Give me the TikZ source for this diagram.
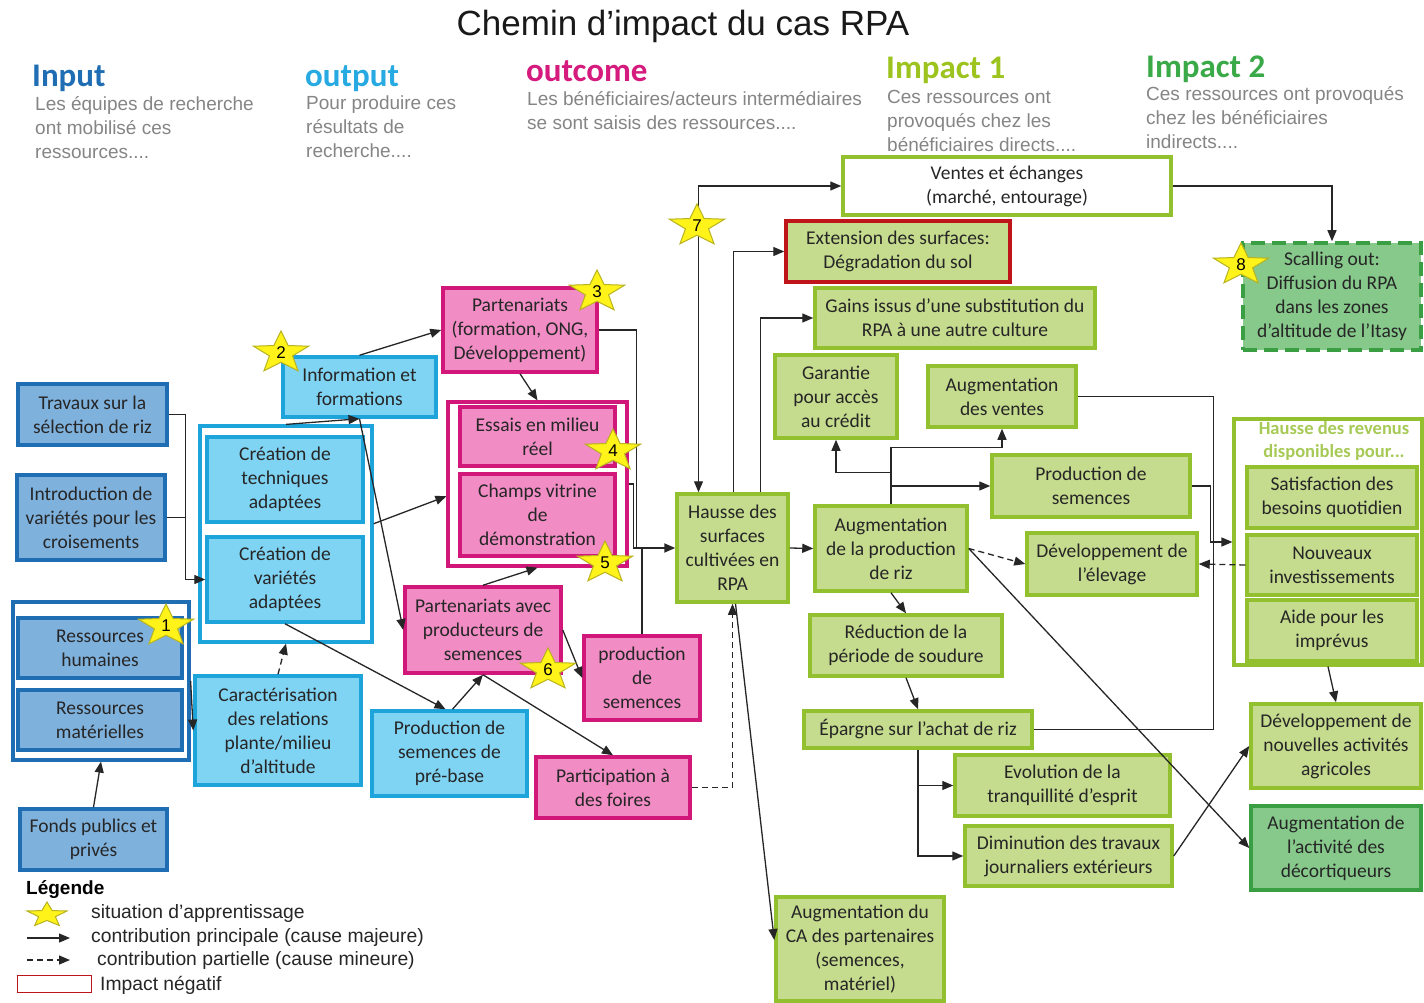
\documentclass[tikz,border=0pt]{standalone}
\usepackage{fontspec}
\setmainfont{Carlito}
\newfontfamily\arialf{Liberation Sans}
\usetikzlibrary{shapes.geometric,arrows.meta,calc}
\definecolor{inFill}{HTML}{7FB1DD}
\definecolor{inDraw}{HTML}{1F6DB3}
\definecolor{outFill}{HTML}{7FD3F3}
\definecolor{outDraw}{HTML}{1CA4DB}
\definecolor{ocFill}{HTML}{F18CC4}
\definecolor{ocDraw}{HTML}{D2177A}
\definecolor{imFill}{HTML}{C5DB8D}
\definecolor{imDraw}{HTML}{93C02E}
\definecolor{dkFill}{HTML}{86C98B}
\definecolor{dkDraw}{HTML}{3A9E42}
\definecolor{redDraw}{HTML}{C0141B}
\definecolor{starFill}{HTML}{FFF31A}
\definecolor{starDraw}{HTML}{B8B31E}
\definecolor{headGray}{HTML}{858585}
\definecolor{txt}{HTML}{262626}
\definecolor{inputC}{HTML}{1F6EB4}
\definecolor{outputC}{HTML}{27AAE1}
\definecolor{outcomeC}{HTML}{D51B7D}
\definecolor{impOneC}{HTML}{9DC41E}
\definecolor{impTwoC}{HTML}{3AA948}
\definecolor{revC}{HTML}{A6CA55}
\newcommand{\Bx}[7]{\node[#1, minimum width={#5-#3}, minimum height={#6-#4}] (#2) at ({(#3+#5)/2},{(#4+#6)/2}) {#7};}
\newcommand{\StarAt}[6]{%
\filldraw[starsty] ($(#2,#3)+(-90:#5 and #6)$) \foreach \k in {0,...,4}{ -- ($(#2,#3)+({-54+\k*72}:{0.42*#5} and {0.42*#6})$) -- ($(#2,#3)+({-18+\k*72}:#5 and #6)$)} -- cycle;
\node[startext] (#1) at (#2,#3) {#4};}
\tikzset{
 box/.style={draw, line width=3.5pt, align=center, inner sep=1pt, font=\fontsize{19.5}{24}\selectfont, text=txt},
 inbox/.style={box, fill=inFill, draw=inDraw},
 outbox/.style={box, fill=outFill, draw=outDraw},
 ocbox/.style={box, fill=ocFill, draw=ocDraw},
 imbox/.style={box, fill=imFill, draw=imDraw},
 negbox/.style={box, fill=imFill, draw=redDraw},
 wbox/.style={box, fill=white, draw=imDraw},
 dkbox/.style={box, fill=dkFill, draw=dkDraw},
 scalbox/.style={box, fill=dkFill, draw=dkDraw, dash pattern=on 14pt off 7pt},
 grp/.style={draw, line width=3.2pt, fill=white, inner sep=0pt},
 ingrp/.style={grp, draw=inDraw},
 outgrp/.style={grp, draw=outDraw},
 ocgrp/.style={grp, draw=ocDraw},
 grngrp/.style={grp, draw=imDraw},
 line/.style={line width=1.3pt, draw=black!85},
 conn/.style={line, -{Triangle[length=11pt,width=9pt]}},
 conntwo/.style={line, {Triangle[length=11pt,width=9pt]}-{Triangle[length=11pt,width=9pt]}},
 dconn/.style={conn, dash pattern=on 6pt off 4pt},
 starsty/.style={fill=starFill, draw=starDraw, line width=1pt},
 startext/.style={inner sep=0pt, font=\arialf\fontsize{17}{17}\selectfont, text=black},
 hdtitle/.style={anchor=base west, inner sep=0pt, font=\bfseries\fontsize{33}{33}\selectfont},
 hdtext/.style={anchor=base west, inner sep=0pt, font=\arialf\fontsize{19}{19}\selectfont, text=headGray},
 legtext/.style={anchor=west, inner sep=0pt, font=\arialf\fontsize{19.3}{19.3}\selectfont, text=txt},
}
\begin{document}
\begin{tikzpicture}[x=1pt,y=-1pt]
\useasboundingbox (0,0) rectangle (1424,1003);
\fill[white] (0,0) rectangle (1424,1003);
% ---------- headers
\node[anchor=base, inner sep=0pt, font=\arialf\fontsize{35}{35}\selectfont, text=black!90] (title) at (683,36) {Chemin d’impact du cas RPA};
\node[hdtitle, text=inputC] (hinput) at (32,87) {Input};
\node[hdtitle, text=outputC] (houtput) at (305,87) {output};
\node[hdtitle, text=outcomeC] (houtcome) at (526,82) {outcome};
\node[hdtitle, text=impOneC] (himpone) at (886,79) {Impact 1};
\node[hdtitle, text=impTwoC] (himptwo) at (1146,78) {Impact 2};
\node[hdtext] (ta1) at (35,111) {Les équipes de recherche};
\node[hdtext] (ta2) at (35,135) {ont mobilisé ces};
\node[hdtext] (ta3) at (35,159) {ressources....};
\node[hdtext] (tb1) at (306,110) {Pour produire ces};
\node[hdtext] (tb2) at (306,134) {résultats de};
\node[hdtext] (tb3) at (306,158) {recherche....};
\node[hdtext] (tc1) at (527,106) {Les bénéficiaires/acteurs intermédiaires};
\node[hdtext] (tc2) at (527,130) {se sont saisis des ressources....};
\node[hdtext] (td1) at (887,104) {Ces ressources ont};
\node[hdtext] (td2) at (887,128) {provoqués chez les};
\node[hdtext] (td3) at (887,152) {bénéficiaires directs....};
\node[hdtext] (te1) at (1146,101) {Ces ressources ont provoqués};
\node[hdtext] (te2) at (1146,125) {chez les bénéficiaires};
\node[hdtext] (te3) at (1146,149) {indirects....};
% ---------- input
\Bx{inbox}{trav}{18}{384}{167}{445}{Travaux sur la\\sélection de riz}
\Bx{inbox}{intro}{17}{475}{165}{560}{Introduction de\\variétés pour les\\croisements}
\Bx{ingrp}{ressgrp}{13}{602}{189}{760}{}
\Bx{inbox}{resshum}{18}{618}{182}{678}{Ressources\\humaines}
\Bx{inbox}{ressmat}{18}{690}{182}{750}{Ressources\\matérielles}
\Bx{inbox}{fonds}{20}{809}{167}{870}{Fonds publics et\\privés}
% ---------- output
\Bx{outbox}{info}{283}{357}{436}{417}{Information et\\formations}
\Bx{outgrp}{outgrp}{200}{426}{372}{642}{}
\Bx{outbox}{tech}{207}{437}{363}{522}{Création de\\techniques\\adaptées}
\Bx{outbox}{vari}{207}{537}{363}{622}{Création de\\variétés\\adaptées}
\Bx{outbox}{caract}{195}{676}{361}{785}{Caractérisation\\des relations\\plante/milieu\\d’altitude}
\Bx{outbox}{prebase}{372}{711}{527}{796}{Production de\\semences de\\pré-base}
% ---------- outcome
\Bx{ocbox}{partform}{443}{288}{597}{372}{Partenariats\\(formation, ONG,\\Développement)}
\Bx{ocgrp}{pinkgrp}{448}{402}{627}{566}{}
\Bx{ocbox}{essais}{460}{407}{615}{466}{Essais en milieu\\réel}
\Bx{ocbox}{champs}{460}{474}{615}{556}{Champs vitrine\\de\\démonstration}
\Bx{ocbox}{partprod}{405}{587}{561}{673}{Partenariats avec\\producteurs de\\semences}
\Bx{ocbox}{prodsem}{584}{636}{700}{720}{production\\de\\semences}
\Bx{ocbox}{foires}{536}{757}{690}{818}{Participation à\\des foires}
% ---------- impact 1
\Bx{wbox}{ventes}{843}{157}{1171}{215}{Ventes et échanges\\(marché, entourage)}
\Bx{negbox}{ext}{786}{221}{1010}{282}{Extension des surfaces:\\Dégradation du sol}
\Bx{imbox}{gains}{815}{288}{1095}{348}{Gains issus d’une substitution du\\RPA à une autre culture}
\Bx{imbox}{garantie}{775}{355}{897}{438}{Garantie\\pour accès\\au crédit}
\Bx{imbox}{augventes}{928}{366}{1076}{427}{Augmentation\\des ventes}
\Bx{imbox}{hausse}{677}{494}{788}{602}{Hausse des\\surfaces\\cultivées en\\RPA}
\Bx{imbox}{augprod}{815}{506}{967}{591}{Augmentation\\de la production\\de riz}
\Bx{imbox}{prodsemb}{992}{455}{1190}{517}{Production de\\semences}
\Bx{imbox}{elevage}{1027}{533}{1197}{595}{Développement de\\l’élevage}
\Bx{imbox}{reduc}{810}{615}{1002}{676}{Réduction de la\\période de soudure}
\Bx{imbox}{epargne}{804}{711}{1032}{748}{Épargne sur l’achat de riz}
\Bx{imbox}{evol}{955}{755}{1170}{816}{Evolution de la\\tranquillité d’esprit}
\Bx{imbox}{dimin}{965}{826}{1172}{886}{Diminution des travaux\\journaliers extérieurs}
\Bx{imbox}{ca}{776}{897}{944}{1001}{Augmentation du\\CA des partenaires\\(semences,\\matériel)}
% ---------- impact 2
\Bx{scalbox}{scal}{1243}{243}{1421}{350}{Scalling out:\\Diffusion du RPA\\dans les zones\\d’altitude  de l’Itasy}
\Bx{grngrp}{revgrp}{1234}{419}{1422}{665}{}
\node[align=center, inner sep=0pt, font=\bfseries\fontsize{18.5}{23}\selectfont, text=revC] (revlbl) at (1334,441) {Hausse des revenus\\disponibles pour...};
\Bx{imbox}{satis}{1247}{467}{1417}{528}{Satisfaction des\\besoins quotidien}
\Bx{imbox}{nouv}{1247}{535}{1417}{595}{Nouveaux\\investissements}
\Bx{imbox}{aide}{1247}{600}{1417}{661}{Aide pour les\\imprévus}
\Bx{imbox}{nouvact}{1251}{704}{1421}{788}{Développement de\\nouvelles activités\\agricoles}
\Bx{dkbox}{decort}{1251}{806}{1421}{890}{Augmentation de\\l’activité des\\décortiqueurs}
% ---------- connectors: input / output
\coordinate (jA) at ($(vari.west)+(-20,0)$);
\draw[conn] (trav.east) -| (jA) -- (vari.west);
\draw[line] (intro.east) -- (intro.east -| jA);
\draw[conn] (ressgrp.east) -- (caract.west);
\draw[conn] (fonds.north) -- (ressgrp.south);
\draw[dconn] (caract.north) -- (outgrp.south);
\draw[conn] (outgrp.north) -- (info.south);
\draw[conn] (info.south) -- (partprod.west);
\draw[conn] (info.north) -- (partform.west);
\draw[conn] (outgrp.east |- tech.south) -- ($(pinkgrp.west |- champs.north)+(0,24)$);
\draw[conn] (vari.south) -- ($(prebase.north)+(-4,0)$);
\draw[conn] ($(prebase.north)+(3,0)$) -- (partprod.south);
\draw[conn] (partprod.north) -- (pinkgrp.south);
\draw[conn] (partprod.east) -- (prodsem.west);
\draw[conn] (partprod.south) -- (foires.north);
\draw[conn] (partform.south) -- (pinkgrp.north);
% into Hausse
\coordinate (jH) at ($(hausse.west)+(-39,0)$);
\draw[line] (partform.east) -| (jH);
\draw[line] (pinkgrp.east) -| ($(jH)+(-3,0)$);
\draw[line] (prodsem.north) -- (prodsem.north |- jH);
\draw[conn, line width=1.8pt] ($(jH)+(-3,0)$) -- (hausse.west);
\draw[dconn] (foires.east) -| (hausse.south);
\draw[conn] ($(hausse.south)+(3,0)$) -- ($(ca.west)+(0,-9)$);
% from Hausse
\draw[conntwo] ($(hausse.north)+(-34,0)$) |- (ventes.west);
\draw[conn] ($(hausse.north)+(1,0)$) |- (ext.west);
\draw[conn] ($(hausse.north)+(28,0)$) |- (gains.west);
\draw[conn] (hausse.east) -- (augprod.west);
% from Augmentation de la production
\draw[conn] (augprod.north) -- ++(0,-32) -| (garantie.south);
\draw[conn] (augprod.north) -- ++(0,-57) -| (augventes.south);
\draw[conn] (augprod.north |- prodsemb.west) -- (prodsemb.west);
\draw[dconn] (augprod.east) -- (elevage.west);
\draw[conn] (augprod.east) -- (decort.west);
\draw[conn] (augprod.south) -- (reduc.north);
\draw[conn] (reduc.south) -- (epargne.north);
% to revenus
\coordinate (jR) at ($(revgrp.west)+(-19,0)$);
\draw[line] (augventes.east) -| (jR);
\draw[line] (prodsemb.east) -| ($(jR)+(-3,0)$);
\draw[line] (epargne.east) -| (jR);
\draw[conn] ($(jR)+(-3,0)$) -- (revgrp.west);
\draw[dconn] (nouv.west) -- (elevage.east);
\draw[conn] (revgrp.south) -- (nouvact.north);
\draw[conn] (epargne.south) |- (evol.west);
\draw[conn] (epargne.south) |- (dimin.west);
\draw[conn] (dimin.east) -- (nouvact.west);
\draw[conn] (ventes.east) -| (scal.north);
% ---------- stars
\StarAt{st1}{166}{626}{1}{29}{22}
\StarAt{st2}{281}{353}{2}{29}{22}
\StarAt{st3}{597}{292}{3}{29}{22}
\StarAt{st4}{613}{451}{4}{29}{22}
\StarAt{st5}{605}{563}{5}{29}{22}
\StarAt{st6}{548}{670}{6}{29}{22}
\StarAt{st7}{697}{226}{7}{29}{22}
\StarAt{st8}{1241}{265}{8}{29}{22}
% ---------- legend
\node[anchor=west, inner sep=0pt, font=\arialf\bfseries\fontsize{19}{19}\selectfont, text=black] (legtitle) at (26,890) {Légende};
\StarAt{legstar}{47}{915}{}{21}{13}
\node[legtext] (leg1) at (91,914) {situation d’apprentissage};
\coordinate (la1) at (27,938);
\coordinate (la2) at (70,938);
\draw[conn] (la1) -- (la2);
\node[legtext] (leg2) at (91,938) {contribution principale (cause majeure)};
\coordinate (lb1) at (27,960);
\coordinate (lb2) at (70,960);
\draw[dconn] (lb1) -- (lb2);
\node[legtext] (leg3) at (97,961) {contribution partielle (cause mineure)};
\node[draw=redDraw, line width=1.8pt, fill=white, minimum width=74, minimum height=17, inner sep=0pt] (legneg) at (54.5,984) {};
\node[legtext] (leg4) at (100,985) {Impact négatif};
\end{tikzpicture}
\end{document}
